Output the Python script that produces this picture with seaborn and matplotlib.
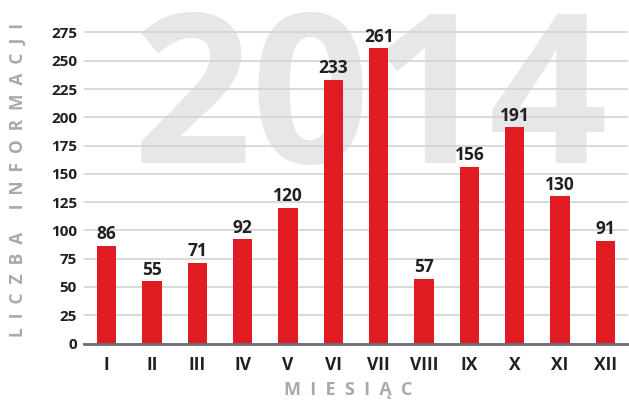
import numpy as np
import pandas as pd
import matplotlib
matplotlib.use("Agg")
import matplotlib.pyplot as plt
import seaborn as sns

# data
months = ["I", "II", "III", "IV", "V", "VI", "VII", "VIII", "IX", "X", "XI", "XII"]
counts = [86, 55, 71, 92, 120, 233, 261, 57, 156, 191, 130, 91]
yticks = [0, 25, 50, 75, 100, 125, 150, 175, 200, 225, 250, 275]

df = pd.DataFrame({"month": months, "count": counts})

sns.set_theme(style="white")
plt.rcParams["font.family"] = ["Open Sans", "DejaVu Sans"]

fig = plt.figure(figsize=(6.29, 4.01), dpi=100)
ax = fig.add_axes([84 / 629, 57.5 / 401, 544 / 629, 328 / 401])

# big watermark year behind the grid
ax.text(0.526, 0.55, "2014", transform=ax.transAxes, fontsize=150, fontweight="bold",
        color="#e6e7e8", ha="center", va="baseline", zorder=0)

sns.barplot(data=df, x="month", y="count", color="#e11b22", width=0.42,
            saturation=1, linewidth=0, ax=ax, zorder=3)

for c in ax.containers:
    ax.bar_label(c, labels=[str(v) for v in counts], padding=2, fontsize=12.5,
                 fontweight="bold", color="#231f20")

ax.set_ylim(0, 290)
ax.set_xlim(-0.5, 11.5)
ax.set_yticks(yticks)
ax.yaxis.grid(True, color="#d1d3d4", linewidth=1.2, zorder=1)
ax.xaxis.grid(False)
for s in ["top", "right", "left"]:
    ax.spines[s].set_visible(False)
ax.spines["bottom"].set_color("#6d6e71")
ax.spines["bottom"].set_linewidth(2)
ax.spines["bottom"].set_zorder(4)
ax.tick_params(axis="y", length=0, pad=5, labelsize=11, labelcolor="#231f20")
ax.tick_params(axis="x", length=0, pad=9, labelsize=12.5, labelcolor="#231f20")
for lab in ax.get_xticklabels() + ax.get_yticklabels():
    lab.set_fontweight("bold")

ax.set_xlabel("")
ax.set_ylabel("")
fig.text(18 / 629, 1 - 180 / 401, "L  I  C  Z  B  A     I  N  F  O  R  M  A  C  J  I",
         rotation=90, ha="center", va="center", fontsize=12.5, fontweight="bold",
         color="#a7a9ac")
fig.text(348 / 629, 1 - 390 / 401, "M  I  E  S  I  Ą  C", ha="center", va="center",
         fontsize=13, fontweight="bold", color="#a7a9ac")

fig.savefig("out.png", dpi=100)
